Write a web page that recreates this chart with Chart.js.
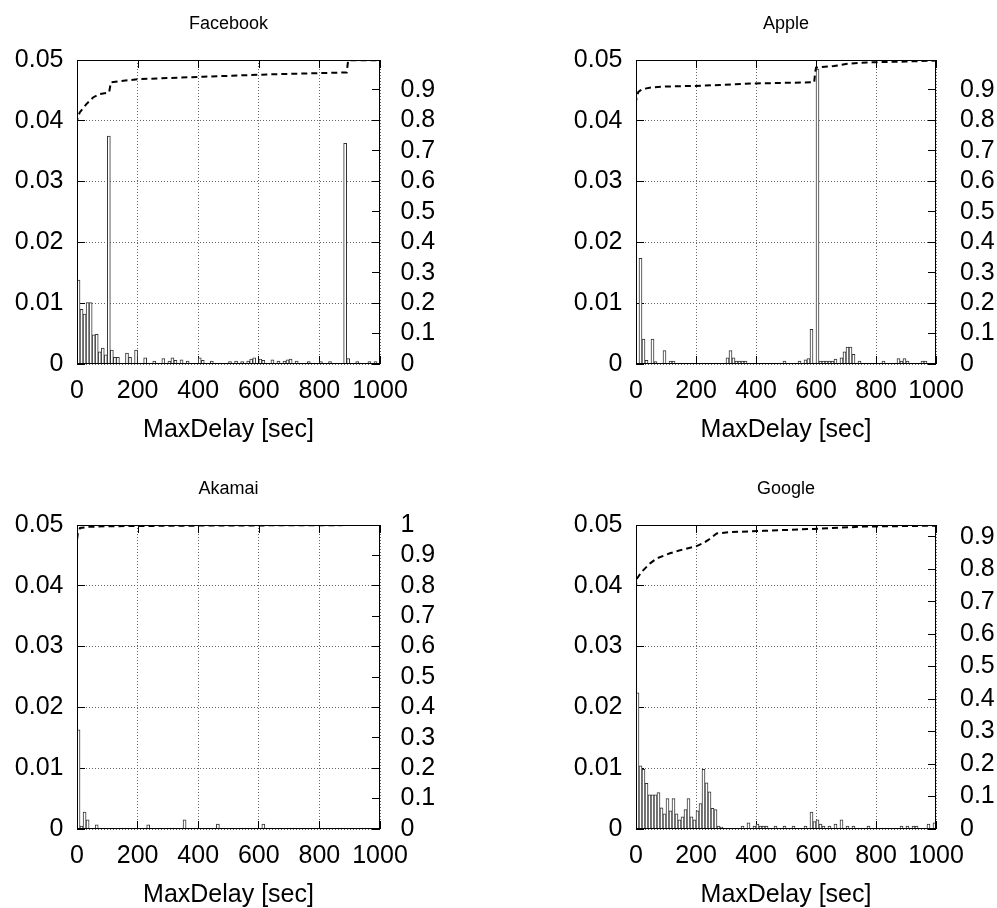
<!DOCTYPE html>
<html>
<head>
<meta charset="utf-8">
<script src="https://cdn.jsdelivr.net/npm/chart.js@4.4.1/dist/chart.umd.min.js"></script>
<style>
  html, body { margin: 0; padding: 0; background: #fff; }
  body { width: 997px; height: 908px; position: relative; overflow: hidden; }
  canvas { position: absolute; }
</style>
</head>
<body>
<canvas id="facebook" width="457" height="460" style="left:0;top:0"></canvas>
<canvas id="apple" width="432" height="460" style="left:570px;top:0"></canvas>
<canvas id="akamai" width="457" height="443" style="left:0;top:465px"></canvas>
<canvas id="google" width="432" height="443" style="left:570px;top:465px"></canvas>
<script>
// histogram bins (start of each 10 sec bin) and their share
const fbBins = [0,10,20,30,40,50,60,70,80,90,100,110,120,130,160,170,190,220,250,280,300,310,320,340,360,400,410,440,500,520,540,560,570,580,600,610,640,660,680,690,700,720,760,800,830,880,890,920,960,980];
const fbHist = [0.0138,0.0090,0.0082,0.0101,0.0101,0.0048,0.0049,0.0020,0.0026,0.0015,0.0375,0.0023,0.0011,0.0011,0.0018,0.0011,0.0023,0.0010,0.0005,0.0009,0.0005,0.0010,0.0006,0.0007,0.0005,0.0010,0.0006,0.0005,0.0004,0.0005,0.0004,0.0005,0.0008,0.0010,0.0008,0.0006,0.0007,0.0005,0.0005,0.0007,0.0008,0.0005,0.0004,0.0004,0.0004,0.0363,0.0009,0.0004,0.0004,0.0004];
const fbCdfX = [0,0,9,31,53,75,100,106,112,200,417,637,890,895,1000];
const fbCdfY = [0,0.800,0.826,0.853,0.875,0.886,0.890,0.892,0.925,0.935,0.943,0.951,0.957,0.997,0.997];

const apBins = [10,20,30,50,60,90,110,120,300,310,320,330,340,350,360,490,540,560,570,580,600,610,620,630,640,650,660,680,690,700,710,720,740,820,870,880,890,900,950,960];
const apHist = [0.0174,0.0041,0.0006,0.0041,0.0004,0.0022,0.0005,0.0005,0.0010,0.0022,0.0010,0.0005,0.0005,0.0005,0.0005,0.0005,0.0005,0.0007,0.0009,0.0057,0.0485,0.0005,0.0005,0.0005,0.0005,0.0005,0.0008,0.0010,0.0020,0.0028,0.0028,0.0016,0.0005,0.0005,0.0009,0.0005,0.0009,0.0005,0.0005,0.0005];
const apCdfX = [0,0,3,8,20,50,100,200,280,390,555,594,597,600,660,700,770,900,1000];
const apCdfY = [0,0.862,0.880,0.893,0.902,0.908,0.911,0.913,0.916,0.921,0.924,0.925,0.955,0.973,0.978,0.985,0.990,0.993,0.996];

const akBins = [0,10,20,30,60,230,350,460,610];
const akHist = [0.0163,0.0005,0.0028,0.0015,0.0007,0.0007,0.0015,0.0008,0.0008];
const akCdfX = [0,0,3,10,40,100,400,1000];
const akCdfY = [0,0.950,0.975,0.990,0.994,0.996,0.998,1.000];

const goBins = [0,10,20,30,40,50,60,70,80,90,100,110,120,130,140,150,160,170,180,190,200,210,220,230,240,250,260,270,280,350,370,390,400,410,420,430,460,490,520,560,580,590,600,610,620,640,660,680,700,720,770,880,900,920,930,970,990];
const goHist = [0.0224,0.0104,0.0098,0.0075,0.0056,0.0056,0.0056,0.0060,0.0035,0.0025,0.0050,0.0030,0.0050,0.0025,0.0015,0.0020,0.0032,0.0050,0.0020,0.0015,0.0030,0.0042,0.0098,0.0076,0.0061,0.0034,0.0032,0.0005,0.0003,0.0005,0.0010,0.0005,0.0008,0.0005,0.0005,0.0005,0.0005,0.0005,0.0005,0.0005,0.0028,0.0012,0.0015,0.0008,0.0005,0.0005,0.0008,0.0015,0.0005,0.0005,0.0005,0.0005,0.0005,0.0005,0.0005,0.0008,0.0010];
const goCdfX = [0,0,4,19,47,69,113,158,202,224,241,269,313,424,591,758,1000];
const goCdfY = [0,0.751,0.772,0.792,0.818,0.833,0.849,0.861,0.871,0.880,0.890,0.910,0.914,0.918,0.924,0.931,0.934];

const binWidth = 10;
const FONT = "'Liberation Sans', Arial, Helvetica, sans-serif";

// plot frame + mirrored x tics on the top border (gnuplot look)
const framePlugin = {
  id: 'frame',
  afterDraw(chart) {
    const { ctx, chartArea: a, scales } = chart;
    ctx.save();
    ctx.strokeStyle = '#000';
    ctx.lineWidth = 1;
    ctx.beginPath();
    scales.x.ticks.forEach(t => {
      const px = Math.round(scales.x.getPixelForValue(t.value)) + 0.5;
      ctx.moveTo(px, a.top);
      ctx.lineTo(px, a.top + 8);
    });
    ctx.stroke();
    ctx.strokeRect(a.left + 0.5, a.top + 0.5, a.width - 1, a.height - 1);
    ctx.restore();
  }
};

function makePanel(id, title, bins, hist, cdfX, cdfY, y2Max, lay) {
  const bars = bins.map((b, i) => ({ x: b + binWidth / 2, y: hist[i] }));
  const cdf = cdfX.map((x, i) => ({ x: x, y: cdfY[i] }));

  new Chart(document.getElementById(id), {
    data: {
      datasets: [
        {
          type: 'line',
          data: cdf,
          yAxisID: 'y2',
          borderColor: '#000',
          borderWidth: 2,
          borderDash: [6, 4],
          pointRadius: 0,
          fill: false,
          tension: 0,
          order: 0
        },
        {
          type: 'bar',
          data: bars,
          yAxisID: 'y',
          backgroundColor: '#fff',
          borderColor: '#333',
          borderWidth: 1,
          barPercentage: 1,
          categoryPercentage: 1,
          order: 1
        }
      ]
    },
    options: {
      responsive: false,
      animation: false,
      events: [],
      layout: { padding: 0 },
      plugins: {
        legend: { display: false },
        tooltip: { enabled: false },
        title: {
          display: true,
          text: title,
          color: '#000',
          font: { family: FONT, size: 18, weight: 'normal' },
          padding: { top: 13, bottom: 25.4 }
        }
      },
      scales: {
        x: {
          type: 'linear',
          min: 0,
          max: 1000,
          offset: false,
          afterFit: s => { s.height = lay.xh; },
          grid: {
            offset: false,
            color: '#666',
            lineWidth: 1,
            tickColor: '#000',
            tickLength: -8
          },
          border: { display: false, dash: [1, 2] },
          title: {
            display: true,
            text: 'MaxDelay [sec]',
            color: '#000',
            font: { family: FONT, size: 25, lineHeight: 1 },
            padding: { top: 0, bottom: lay.xtPad }
          },
          ticks: {
            stepSize: 200,
            autoSkip: false,
            maxRotation: 0,
            padding: 20.5,
            color: '#000',
            font: { family: FONT, size: 25 },
            callback: v => String(v)
          }
        },
        y: {
          position: 'left',
          min: 0,
          max: 0.05,
          afterFit: s => { s.width = lay.yw; },
          grid: {
            color: '#666',
            lineWidth: 1,
            tickColor: '#000',
            tickLength: -8
          },
          border: { display: false, dash: [1, 2] },
          ticks: {
            stepSize: 0.01,
            autoSkip: false,
            padding: 21.5,
            color: '#000',
            font: { family: FONT, size: 25 },
            callback: v => String(+v.toFixed(2))
          }
        },
        y2: {
          position: 'right',
          min: 0,
          max: y2Max,
          afterFit: s => { s.width = lay.y2w; },
          grid: {
            drawOnChartArea: false,
            tickColor: '#000',
            tickLength: -8
          },
          border: { display: false },
          ticks: {
            stepSize: 0.1,
            includeBounds: false,
            autoSkip: false,
            padding: lay.y2Pad,
            color: '#000',
            font: { family: FONT, size: 25 },
            callback: v => String(+v.toFixed(1))
          }
        }
      }
    },
    plugins: [framePlugin]
  });
}

const leftTop = { yw: 77, y2w: 77, xh: 96, xtPad: 17.5, y2Pad: 28.5 };
const rightTop = { yw: 66, y2w: 66, xh: 96, xtPad: 17.5, y2Pad: 32 };
const leftBot = { yw: 77, y2w: 77, xh: 79, xtPad: 0.5, y2Pad: 28.5 };
const rightBot = { yw: 66, y2w: 66, xh: 79, xtPad: 0.5, y2Pad: 32 };

makePanel('facebook', 'Facebook', fbBins, fbHist, fbCdfX, fbCdfY, 0.998, leftTop);
makePanel('apple', 'Apple', apBins, apHist, apCdfX, apCdfY, 0.998, rightTop);
makePanel('akamai', 'Akamai', akBins, akHist, akCdfX, akCdfY, 1, leftBot);
makePanel('google', 'Google', goBins, goHist, goCdfX, goCdfY, 0.936, rightBot);
</script>
</body>
</html>
